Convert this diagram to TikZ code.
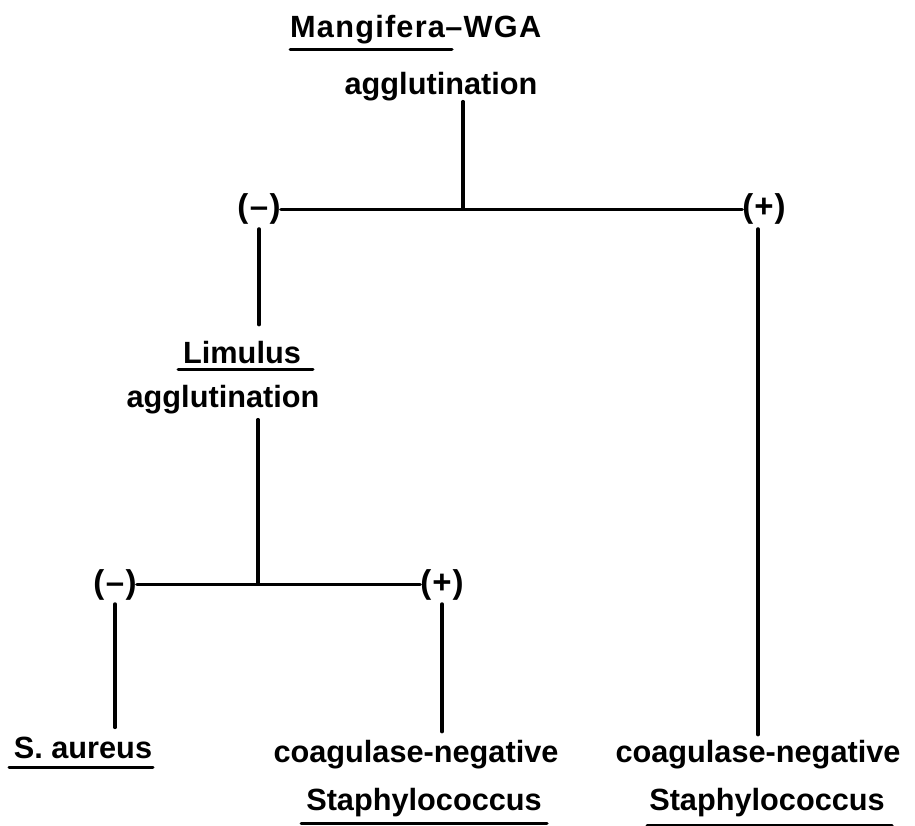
\documentclass[tikz,border=0pt]{standalone}
\usepackage{fontspec}
\setmainfont{Liberation Sans}
\begin{document}
\begin{tikzpicture}[x=1pt,y=-1pt,
  lbl/.style={font=\bfseries\fontsize{30.7pt}{36pt}\selectfont, inner sep=0pt, anchor=base},
  sign/.style={font=\bfseries\fontsize{33pt}{38pt}\selectfont, inner sep=0pt, anchor=base},
  conn/.style={line width=3.6pt, line cap=round},
  uline/.style={line width=3pt, line cap=round}]
\useasboundingbox (0,0) rectangle (915,826);
% top
\node[lbl, anchor=base west, font=\bfseries\fontsize{30.7pt}{36pt}\selectfont\addfontfeatures{LetterSpace=4}] (mang) at (290,38) {Mangifera};
\node[lbl, anchor=base west, font=\bfseries\fontsize{30.7pt}{36pt}\selectfont\addfontfeatures{LetterSpace=4}] (wga) at (mang.base east) {–WGA};
\node[lbl] (agg1) at (441,95) {agglutination};
\coordinate (j1) at (463,209);
\node[sign] (m1) at (259,218) {(\kern1.5pt–\kern1.5pt)};
\node[sign] (p1) at (764,218) {(\kern1pt+\kern1pt)};
% Limulus
\node[lbl] (lim) at (242,363) {Limulus};
\node[lbl] (agg2) at (223,407) {agglutination};
\coordinate (j2) at (258,584);
\node[sign] (m2) at (115,593) {(\kern1.5pt–\kern1.5pt)};
\node[sign] (p2) at (442,593) {(\kern1pt+\kern1pt)};
% leaves
\node[lbl] (sa) at (83,758) {S. aureus};
\node[lbl] (cn1) at (416,762) {coagulase-negative};
\node[lbl] (st1) at (424,810) {Staphylococcus};
\node[lbl] (cn2) at (758,762) {coagulase-negative};
\node[lbl] (st2) at (767,810) {Staphylococcus};
% underlines
\draw[uline] (290,50) -- (452,50);
\draw[uline] (178,369) -- (313,369);
\draw[uline] (9,767) -- (153,767);
\draw[uline] (301,823) -- (547,823);
\draw[uline] (647,825) -- (892,825);
% connectors
\draw[conn] (agg1.south -| j1) -- (j1);
\draw[conn] (m1.east) -- (p1.west);
\draw[conn, shorten <=4pt] (m1.south) -- ([yshift=16pt]m1.south |- lim.north);
\draw[conn, shorten <=4pt, shorten >=5pt] (p1.south -| cn2.north) -- (cn2.north);
\draw[conn, shorten <=6pt] (agg2.south -| j2) -- (j2);
\draw[conn] (m2.east) -- (p2.west);
\draw[conn, shorten <=4pt, shorten >=9pt] (m2.south) -- (m2.south |- sa.north);
\draw[conn, shorten <=4pt, shorten >=8pt] (p2.south) -- (p2.south |- cn1.north);
\end{tikzpicture}
\end{document}
